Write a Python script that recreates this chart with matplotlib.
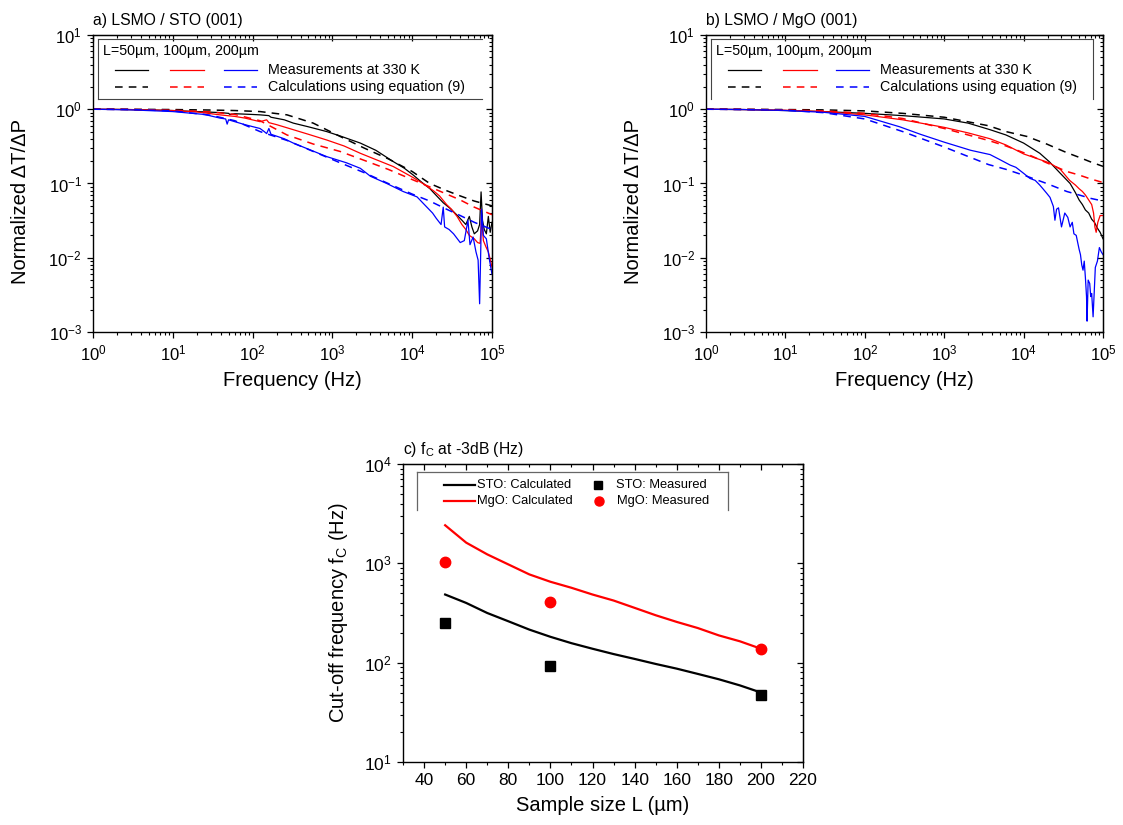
import numpy as np
import matplotlib
matplotlib.use('Agg')
import matplotlib.pyplot as plt
from matplotlib.ticker import MultipleLocator, LogLocator

plt.rcParams['font.family'] = ['Liberation Sans', 'DejaVu Sans']
plt.rcParams['mathtext.fontset'] = 'custom'
plt.rcParams['mathtext.rm'] = 'Liberation Sans'
plt.rcParams['mathtext.it'] = 'Liberation Sans:italic'
plt.rcParams['mathtext.default'] = 'regular'
plt.rcParams['axes.unicode_minus'] = False

#***** Panel a: LSMO / STO, measured curves *****
a_f_50 = [1, 2, 5, 10, 20, 40, 50, 52, 60, 100, 124, 160, 170, 250, 324, 500, 850, 1300, 2240, 3500,
          5800, 8000, 10300, 13000, 16700, 18400, 24500, 30000, 36000, 42000, 47000, 52000, 56000,
          60000, 66000, 70000, 73000, 76000, 80000, 85000, 90000, 95000, 100000]
a_v_50 = [1.0, 0.995, 0.98, 0.96, 0.93, 0.90, 0.88, 0.85, 0.87, 0.85, 0.84, 0.82, 0.78, 0.72, 0.65,
          0.58, 0.50, 0.43, 0.35, 0.28, 0.197, 0.16, 0.13, 0.105, 0.085, 0.076, 0.055, 0.046, 0.038,
          0.032, 0.028, 0.036, 0.026, 0.021, 0.023, 0.028, 0.077, 0.032, 0.024, 0.021, 0.036, 0.022, 0.03]
a_f_100 = [1, 3, 10, 20, 39, 60, 80, 124, 150, 160, 200, 324, 500, 850, 1400, 2240, 3500, 5800, 10300,
           14000, 18400, 22000, 27000, 31000, 36500, 42000, 47000, 52000, 60000, 66000, 71000, 74000,
           78000, 84000, 90000, 95000, 100000]
a_v_100 = [1.0, 0.99, 0.96, 0.92, 0.84, 0.80, 0.76, 0.68, 0.72, 0.66, 0.62, 0.53, 0.46, 0.385, 0.32,
           0.255, 0.21, 0.169, 0.12, 0.098, 0.08, 0.068, 0.052, 0.045, 0.036, 0.028, 0.024, 0.02, 0.018,
           0.016, 0.0156, 0.035, 0.017, 0.014, 0.012, 0.0095, 0.0075]
a_f_200 = [1, 3, 10, 25, 39, 46, 48, 50, 80, 124, 140, 150, 160, 170, 250, 324, 500, 850, 1500, 2240,
           3000, 4800, 7700, 11500, 15000, 18000, 20000, 23000, 24500, 25500, 29000, 33000, 40000, 45000,
           50000, 53000, 58000, 63000, 67000, 70000, 72000, 74000, 78000, 85000, 92000, 100000]
a_v_200 = [1.0, 0.98, 0.93, 0.85, 0.76, 0.74, 0.63, 0.72, 0.62, 0.55, 0.50, 0.47, 0.55, 0.46, 0.40,
           0.35, 0.29, 0.23, 0.19, 0.16, 0.125, 0.10, 0.078, 0.066, 0.049, 0.04, 0.034, 0.028, 0.048,
           0.026, 0.024, 0.021, 0.016, 0.017, 0.032, 0.015, 0.019, 0.012, 0.0093, 0.0024, 0.01, 0.045,
           0.02, 0.018, 0.01, 0.006]

# calculations, equation (9)
a_f_calc = [1, 3, 10, 30, 60, 124, 270, 575, 1250, 2500, 5000, 10000, 16600, 27000, 40000, 60000, 100000]
a_calc_50 = [1.0, 0.998, 0.99, 0.975, 0.96, 0.93, 0.84, 0.65, 0.43, 0.30, 0.215, 0.145, 0.10, 0.08, 0.068, 0.058, 0.05]
a_calc_100 = [1.0, 0.995, 0.97, 0.92, 0.85, 0.70, 0.45, 0.34, 0.27, 0.205, 0.155, 0.113, 0.09, 0.072, 0.06, 0.048, 0.038]
a_calc_200 = [1.0, 0.99, 0.95, 0.83, 0.70, 0.50, 0.38, 0.27, 0.19, 0.14, 0.10, 0.072, 0.058, 0.045, 0.037, 0.030, 0.024]

#***** Panel b: LSMO / MgO *****
b_f_50 = [1, 3, 10, 30, 100, 300, 1000, 2000, 3780, 6000, 10000, 16000, 21000, 29000, 38500, 45000,
          50000, 55000, 60000, 66000, 72000, 78000, 85000, 92000, 100000]
b_v_50 = [1.0, 0.99, 0.96, 0.93, 0.88, 0.82, 0.74, 0.65, 0.53, 0.45, 0.35, 0.255, 0.197, 0.137, 0.10,
          0.075, 0.06, 0.052, 0.044, 0.04, 0.033, 0.03, 0.025, 0.022, 0.018]
b_f_100 = [1, 3, 10, 30, 100, 300, 1000, 2000, 3780, 6000, 10000, 16000, 21000, 29000, 38000, 45000,
           50000, 55000, 60000, 66000, 72000, 76000, 79000, 82000, 86000, 92000, 100000]
b_v_100 = [1.0, 0.99, 0.97, 0.93, 0.84, 0.72, 0.57, 0.48, 0.40, 0.33, 0.25, 0.21, 0.19, 0.155, 0.11,
           0.095, 0.085, 0.078, 0.07, 0.06, 0.052, 0.04, 0.026, 0.022, 0.03, 0.037, 0.037]
b_f_200 = [1, 3, 10, 30, 100, 275, 500, 1000, 2150, 3780, 5000, 6760, 8000, 10000, 12000, 14000, 16000,
           17500, 19500, 21500, 23700, 24800, 26000, 27500, 30000, 33000, 36000, 38500, 41000, 43000,
           46000, 48000, 50000, 52000, 54000, 56000, 58000, 60000, 62000, 63000, 65000, 68000, 70000,
           72000, 75000, 78000, 80000, 85000, 90000, 95000, 100000]
b_v_200 = [1.0, 0.99, 0.96, 0.91, 0.80, 0.58, 0.46, 0.36, 0.28, 0.245, 0.21, 0.177, 0.165, 0.137, 0.117,
           0.11, 0.095, 0.085, 0.074, 0.065, 0.049, 0.032, 0.045, 0.047, 0.026, 0.04, 0.035, 0.026, 0.03,
           0.021, 0.02, 0.016, 0.013, 0.011, 0.008, 0.0068, 0.009, 0.0054, 0.003, 0.0014, 0.005, 0.0045,
           0.003, 0.0033, 0.0016, 0.004, 0.0074, 0.009, 0.0137, 0.012, 0.011]

b_f_calc = [1, 3, 10, 30, 100, 300, 1000, 3600, 6000, 11000, 19500, 35000, 50000, 70000, 100000]
b_calc_50 = [1.0, 0.998, 0.99, 0.98, 0.95, 0.88, 0.78, 0.60, 0.50, 0.43, 0.34, 0.26, 0.225, 0.195, 0.17]
b_calc_100 = [1.0, 0.995, 0.98, 0.95, 0.88, 0.75, 0.55, 0.38, 0.32, 0.25, 0.19, 0.145, 0.13, 0.115, 0.103]
b_calc_200 = [1.0, 0.99, 0.97, 0.90, 0.74, 0.50, 0.31, 0.18, 0.155, 0.125, 0.10, 0.078, 0.07, 0.063, 0.058]

#***** Panel c: cut-off frequency vs sample size *****
L_calc = [50, 60, 70, 80, 90, 100, 110, 120, 130, 140, 150, 160, 170, 180, 190, 200]
sto_calc = [485, 399, 316, 261, 215, 182, 157, 138, 122, 109, 97, 87, 77, 68, 59, 50]
mgo_calc = [2415, 1614, 1230, 975, 773, 652, 567, 485, 422, 356, 300, 257, 223, 188, 164, 138]
L_meas = [50, 100, 200]
sto_meas = [252, 93, 47.6]
mgo_meas = [1021, 408, 138]

COLORS = ['#000000', '#ff0000', '#0000ff']
DASH = (0, (5, 4))
FRAME = '#444444'


def log_minor(axis):
    axis.set_minor_locator(LogLocator(base=10, subs=np.arange(2, 10), numticks=100))


def mirror_ticks(ax, logx, logy):
    top = ax.secondary_xaxis('top')
    top.tick_params(which='both', direction='in', labeltop=False)
    top.tick_params(which='major', length=4.5, width=0.9)
    top.tick_params(which='minor', length=2.5, width=0.8)
    right = ax.secondary_yaxis('right')
    right.tick_params(which='both', direction='in', labelright=False)
    right.tick_params(which='major', length=4.5, width=0.9)
    right.tick_params(which='minor', length=2.5, width=0.8)
    if logx:
        log_minor(top.xaxis)
    if logy:
        log_minor(right.yaxis)
    return top, right


def style_axes(ax, tick_size):
    for sp in ax.spines.values():
        sp.set_linewidth(1.0)
    ax.tick_params(which='both', direction='out', labelsize=tick_size)
    ax.tick_params(which='major', length=4.5, width=0.9)
    ax.tick_params(which='minor', length=2.5, width=0.8)


def freq_panel(ax, title, meas, calc_f, calc, sides):
    for (f, v), c in zip(meas, COLORS):
        ax.plot(f, v, color=c, lw=0.9)
    for v, c in zip(calc, COLORS):
        ax.plot(calc_f, v, color=c, lw=1.1, ls=DASH)
    ax.set_xscale('log')
    ax.set_yscale('log')
    ax.set_xlim(1, 1e5)
    ax.set_ylim(1e-3, 10)
    log_minor(ax.xaxis)
    log_minor(ax.yaxis)
    style_axes(ax, 12)
    mirror_ticks(ax, True, True)
    ax.set_xlabel('Frequency (Hz)', fontsize=14.5, labelpad=6)
    ax.set_ylabel('Normalized \u0394T/\u0394P', fontsize=14.5)
    ax.yaxis.set_label_coords(-0.158, 0.44)
    ax.set_title(title, loc='left', fontsize=11.3, pad=7)

    # key, drawn the way the original Origin legend looks
    tr = ax.transAxes
    ax.text(0.025, 0.945, 'L=50\u00b5m, 100\u00b5m, 200\u00b5m', transform=tr, fontsize=10.3, va='center')
    segs = [(0.055, 0.138), (0.194, 0.279), (0.328, 0.411)]
    for (x0, x1), c in zip(segs, COLORS):
        ax.plot([x0, x1], [0.883, 0.883], transform=tr, color=c, lw=0.9)
        ax.plot([x0, x1], [0.824, 0.824], transform=tr, color=c, lw=1.1, ls=DASH)
    ax.text(0.438, 0.883, 'Measurements at 330 K', transform=tr, fontsize=10.3, va='center')
    ax.text(0.438, 0.824, 'Calculations using equation (9)', transform=tr, fontsize=10.3, va='center')
    xl, xr, yb, yt = 0.0125, 0.974, 0.786, 0.985
    if 'left' in sides:
        ax.plot([xl, xl], [yb, yt], transform=tr, color=FRAME, lw=0.8)
    if 'top' in sides:
        ax.plot([xl, xr], [yt, yt], transform=tr, color=FRAME, lw=0.8)
    if 'bottom' in sides:
        ax.plot([xl, xr], [yb, yb], transform=tr, color=FRAME, lw=0.8)
    if 'right' in sides:
        ax.plot([xr, xr], [yb, yt], transform=tr, color=FRAME, lw=0.8)


fig = plt.figure(figsize=(11.23, 8.25), dpi=100)
ax_a = fig.add_axes([0.0828, 0.5976, 0.3553, 0.36])
ax_b = fig.add_axes([0.6287, 0.5976, 0.3535, 0.36])
ax_c = fig.add_axes([0.3589, 0.0764, 0.3562, 0.3612])

freq_panel(ax_a, 'a) LSMO / STO (001)',
           [(a_f_50, a_v_50), (a_f_100, a_v_100), (a_f_200, a_v_200)],
           a_f_calc, [a_calc_50, a_calc_100, a_calc_200], ('left', 'top', 'bottom'))
freq_panel(ax_b, 'b) LSMO / MgO (001)',
           [(b_f_50, b_v_50), (b_f_100, b_v_100), (b_f_200, b_v_200)],
           b_f_calc, [b_calc_50, b_calc_100, b_calc_200], ('left', 'top', 'right'))

# Panel c
ax_c.plot(L_calc, sto_calc, color='#000000', lw=1.6)
ax_c.plot(L_calc, mgo_calc, color='#ff0000', lw=1.6)
ax_c.plot(L_meas, sto_meas, ls='none', marker='s', ms=6.5, color='#000000')
ax_c.plot(L_meas, mgo_meas, ls='none', marker='o', ms=7.5, color='#ff0000')
ax_c.set_yscale('log')
ax_c.set_xlim(30, 220)
ax_c.set_ylim(10, 1e4)
ax_c.set_xticks(np.arange(40, 221, 20))
ax_c.xaxis.set_minor_locator(MultipleLocator(10))
log_minor(ax_c.yaxis)
style_axes(ax_c, 12.5)
top_c, right_c = mirror_ticks(ax_c, False, True)
top_c.set_xticks(np.arange(40, 221, 20))
top_c.xaxis.set_minor_locator(MultipleLocator(10))
ax_c.set_xlabel('Sample size L (\u00b5m)', fontsize=14.5, labelpad=6)
ax_c.set_ylabel('Cut-off frequency f$_\\mathregular{C}$ (Hz)', fontsize=14.5)
ax_c.yaxis.set_label_coords(-0.1325, 0.5)
ax_c.set_title('c) f$_\\mathregular{C}$ at -3dB (Hz)', loc='left', fontsize=11.3, pad=7)

tr = ax_c.transAxes
ax_c.plot([0.102, 0.180], [0.930, 0.930], transform=tr, color='#000000', lw=1.6)
ax_c.plot([0.102, 0.180], [0.876, 0.876], transform=tr, color='#ff0000', lw=1.6)
ax_c.text(0.186, 0.930, 'STO: Calculated', transform=tr, fontsize=9.3, va='center')
ax_c.text(0.186, 0.876, 'MgO: Calculated', transform=tr, fontsize=9.3, va='center')
ax_c.plot([0.488], [0.930], transform=tr, marker='s', ms=5.5, color='#000000', ls='none')
ax_c.plot([0.490], [0.876], transform=tr, marker='o', ms=6.5, color='#ff0000', ls='none')
ax_c.text(0.532, 0.930, 'STO: Measured', transform=tr, fontsize=9.3, va='center')
ax_c.text(0.536, 0.876, 'MgO: Measured', transform=tr, fontsize=9.3, va='center')
ax_c.plot([0.035, 0.035], [0.846, 0.972], transform=tr, color='#666666', lw=0.9)
ax_c.plot([0.035, 0.8126], [0.972, 0.972], transform=tr, color='#666666', lw=0.9)
ax_c.plot([0.8126, 0.8126], [0.846, 0.972], transform=tr, color='#666666', lw=0.9)

fig.savefig('out.png', dpi=100)
